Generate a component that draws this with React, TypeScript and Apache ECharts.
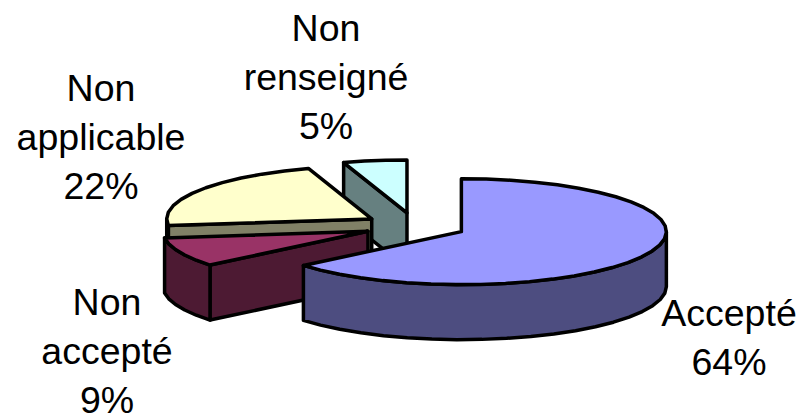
import React, { useEffect, useRef } from "react";
import * as echarts from "echarts";

const categories = ["Accepté", "Non\naccepté", "Non\napplicable", "Non\nrenseigné"];
const values = [64, 9, 22, 5];
const topColors = ["#9999FF", "#993366", "#FFFFCC", "#CCFFFF"];
const sideColors = ["#4D4D80", "#4D1A33", "#808066", "#668080"];
const labelCenters = [[729, 337], [107, 351], [101, 137], [326, 77]];

const CX = 415, CY = 226, RX = 205, RY = 53, DEPTH = 55, EXPLODE = 0.25, STEP = 7;
const rad = (d: number) => (d * Math.PI) / 180;
const black = { stroke: "#000", lineWidth: 3.5, lineJoin: "round" as const };

function arc(ax: number, ay: number, a0: number, a1: number) {
  const pts: number[][] = [];
  const n = Math.max(1, Math.round((a1 - a0) / STEP));
  for (let i = 0; i <= n; i++) {
    const a = rad(a0 + ((a1 - a0) * i) / n);
    pts.push([ax + RX * Math.sin(a), ay - RY * Math.cos(a)]);
  }
  return pts;
}

export default function App() {
  const ref = useRef<HTMLDivElement>(null);
  useEffect(() => {
    const chart = echarts.init(ref.current!, undefined, { renderer: "svg" });
    const total = values.reduce((s, v) => s + v, 0);
    const starts: number[] = [];
    values.reduce((s, v) => (starts.push(s), s + (v / total) * 360), 0);
    // back-to-front painting order
    const order = [3, 2, 1, 0];
    chart.setOption({
      animation: false,
      series: [
        {
          type: "custom",
          coordinateSystem: "none",
          silent: true,
          data: order.map((i) => [values[i], i]),
          renderItem: (_p: any, api: any) => {
            const i = api.value(1) as number;
            const v = api.value(0) as number;
            const a0 = starts[i];
            const a1 = a0 + (v / total) * 360;
            const mid = rad((a0 + a1) / 2);
            const ax = CX + EXPLODE * RX * Math.sin(mid);
            const ay = CY - EXPLODE * RY * Math.cos(mid);
            const children: any[] = [];
            const side = { ...black, fill: sideColors[i] };
            const cut = (a: number) => {
              const [o] = arc(ax, ay, a, a);
              children.push({
                type: "polygon",
                shape: { points: [[ax, ay], o, [o[0], o[1] + DEPTH], [ax, ay + DEPTH]] },
                style: side,
              });
            };
            if (a1 > 0 && a1 < 180) cut(a1);
            if (a0 > 180 && a0 < 360) cut(a0);
            const w0 = Math.max(a0, 90), w1 = Math.min(a1, 270);
            if (w1 > w0) {
              const top = arc(ax, ay, w0, w1);
              const bottom = top.map(([x, y]) => [x, y + DEPTH]).reverse();
              children.push({ type: "polygon", shape: { points: [...top, ...bottom] }, style: side });
            }
            children.push({
              type: "polygon",
              shape: { points: [[ax, ay], ...arc(ax, ay, a0, a1)] },
              style: { ...black, fill: topColors[i] },
            });
            children.push({
              type: "text",
              x: labelCenters[i][0],
              y: labelCenters[i][1],
              z2: 10,
              style: {
                text: `${categories[i]}\n${v}%`,
                fill: "#000",
                font: "37.5px 'Liberation Sans'",
                lineHeight: 49,
                align: "center",
                verticalAlign: "middle",
              },
            });
            return { type: "group", children };
          },
        },
      ],
    });
    return () => chart.dispose();
  }, []);
  return (
    <div
      ref={ref}
      style={{ width: 801, height: 415, position: "fixed", left: 0, top: 0, background: "#fff" }}
    />
  );
}
